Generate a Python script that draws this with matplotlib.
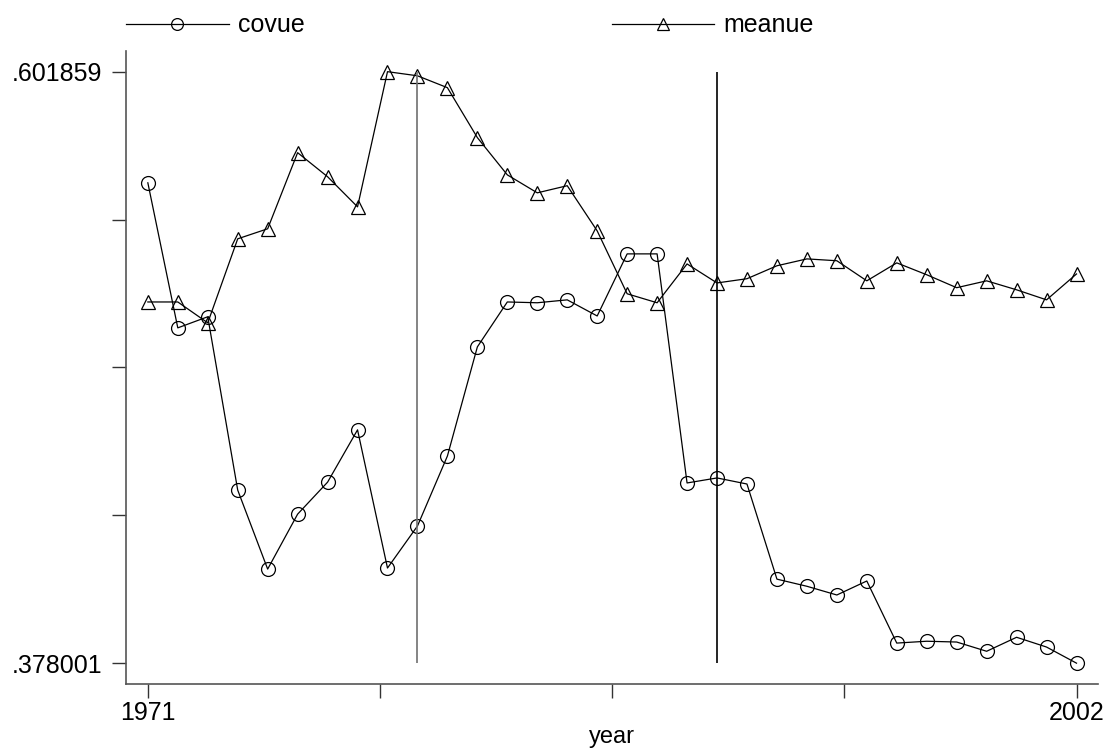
import matplotlib
matplotlib.use("Agg")
import matplotlib.pyplot as plt

years = list(range(1971, 2003))

covue = [0.5598, 0.5049, 0.5091, 0.4435, 0.4136, 0.4344, 0.4465, 0.4663, 0.4140, 0.4299,
         0.4564, 0.4977, 0.5147, 0.5144, 0.5155, 0.5094, 0.5329, 0.5329, 0.4462, 0.4481,
         0.4458, 0.4098, 0.4071, 0.4038, 0.4091, 0.3856, 0.3863, 0.3860, 0.3825, 0.3878,
         0.3841, 0.378001]

meanue = [0.5147, 0.5147, 0.5068, 0.5386, 0.5424, 0.5712, 0.5621, 0.5507, 0.601859, 0.6003,
          0.5958, 0.5769, 0.5628, 0.5560, 0.5587, 0.5416, 0.5178, 0.5144, 0.5291, 0.5219,
          0.5235, 0.5284, 0.5310, 0.5303, 0.5227, 0.5295, 0.5250, 0.5201, 0.5227, 0.5193,
          0.5155, 0.5253]

ymin, ymax = 0.378001, 0.601859
event_years = [1980, 1990]

plt.rcParams['font.family'] = ['Liberation Sans', 'DejaVu Sans']

fig = plt.figure(figsize=(11.05, 7.56), dpi=100)
ax = fig.add_axes([0.114, 0.095, 0.880, 0.838])

ax.plot(years, covue, color='black', lw=0.9, marker='o', ms=10,
        mfc='none', mec='black', mew=0.9, label='covue')
ax.plot(years, meanue, color='black', lw=0.9, marker='^', ms=10,
        mfc='none', mec='black', mew=0.9, label='meanue')

# lignes verticales aux années de rupture
ax.vlines(event_years, ymin, ymax, colors=['#707070', 'black'], lw=1.2)

ax.set_xlim(1970.27, 2002.73)
ax.set_ylim(0.370047, 0.609813)

xt = [1971 + i * (2002 - 1971) / 4 for i in range(5)]
yt = [ymin + i * (ymax - ymin) / 4 for i in range(5)]
ax.set_xticks(xt)
ax.set_xticklabels(['1971', '', '', '', '2002'])
ax.set_yticks(yt)
ax.set_yticklabels(['.378001', '', '', '', '.601859'])
ax.tick_params(direction='out', length=10, width=1, labelsize=18, color='#333333')
ax.tick_params(axis='x', pad=2)
ax.tick_params(axis='y', pad=7)
ax.set_xlabel('year', fontsize=17, labelpad=1)

for s in ['top', 'right']:
    ax.spines[s].set_visible(False)
for s in ['left', 'bottom']:
    ax.spines[s].set_color('#555555')
    ax.spines[s].set_linewidth(1.2)

fig.legend(loc='upper left', bbox_to_anchor=(0.0937, 1.012), ncol=2, frameon=False,
           fontsize=18, handlelength=4.1, handletextpad=0.36, columnspacing=12.3,
           markerscale=0.85)

fig.savefig('out.png', dpi=100)
